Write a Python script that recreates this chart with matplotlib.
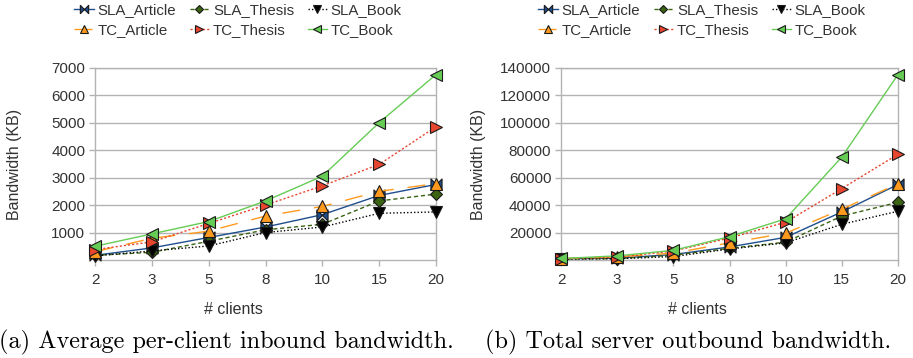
import matplotlib
matplotlib.use("Agg")
import matplotlib.pyplot as plt
from matplotlib.path import Path
import numpy as np

clients = ["2", "3", "5", "8", "10", "15", "20"]

# (a) average per-client inbound bandwidth (KB)
per_client = {
    "SLA_Article": [170, 440, 820, 1200, 1650, 2350, 2750],
    "SLA_Thesis":  [170, 280, 680, 1100, 1300, 2150, 2400],
    "SLA_Book":    [150, 330, 510, 1000, 1200, 1700, 1750],
    "TC_Article":  [300, 790, 1050, 1600, 1950, 2500, 2780],
    "TC_Thesis":   [380, 660, 1330, 2000, 2700, 3480, 4850],
    "TC_Book":     [500, 950, 1400, 2150, 3050, 5000, 6750],
}

# (b) total server outbound bandwidth (KB)
server_total = {
    "SLA_Article": [900, 1300, 4000, 9500, 16500, 35000, 55000],
    "SLA_Thesis":  [800, 1000, 3500, 8500, 13000, 32000, 42000],
    "SLA_Book":    [700, 900, 2500, 8000, 12500, 26000, 35500],
    "TC_Article":  [1000, 2300, 5000, 12500, 19500, 37000, 55500],
    "TC_Thesis":   [1000, 2000, 6500, 16000, 27500, 52000, 77000],
    "TC_Book":     [1100, 3000, 7000, 17000, 30000, 75000, 135000],
}

bowtie = Path([(-1, 1), (0, 0), (-1, -1), (-1, 1),
               (1, 1), (0, 0), (1, -1), (1, 1)],
              [Path.MOVETO, Path.LINETO, Path.LINETO, Path.CLOSEPOLY,
               Path.MOVETO, Path.LINETO, Path.LINETO, Path.CLOSEPOLY])

styles = {
    "SLA_Article": dict(color="#1f4e8c", ls="-", marker=bowtie, ms=8),
    "SLA_Thesis":  dict(color="#3a6312", ls=(0, (3, 2)), marker="D", ms=6),
    "SLA_Book":    dict(color="#000000", ls=(0, (1, 1.5)), marker="v", ms=8),
    "TC_Article":  dict(color="#ff9a1e", ls=(0, (13, 10)), marker="^", ms=8),
    "TC_Thesis":   dict(color="#e8452e", ls=(0, (1.5, 1.5)), marker=">", ms=8),
    "TC_Book":     dict(color="#66cc55", ls="-", marker="<", ms=8),
}

plt.rcParams["font.family"] = ["Liberation Sans", "DejaVu Sans"]
grid_c = "#b3b3b3"
text_c = "#333333"

fig = plt.figure(figsize=(9.13, 3.58), dpi=100)
W, H = 913, 358


def panel(left_px, right_px, data, ymax, ystep, legend_cx, label_x, xlabel_cx,
          caption, cap_cx):
    ax = fig.add_axes([left_px / W, 1 - 260 / H, (right_px - left_px) / W,
                       (260 - 67.7) / H])
    x = np.arange(len(clients))
    for name, vals in data.items():
        st = styles[name]
        ax.plot(x, vals, color=st["color"], linestyle=st["ls"], lw=1.0,
                marker=st["marker"], markersize=st["ms"],
                markerfacecolor=st["color"], markeredgecolor="#1a1a1a",
                markeredgewidth=0.8, label=name, clip_on=False, zorder=3)
    ax.set_xlim(0, len(clients) - 1)
    ax.set_ylim(0, ymax)
    ax.set_xticks(x)
    ax.set_xticklabels(clients)
    ax.set_yticks(np.arange(ystep, ymax + 1, ystep))
    ax.yaxis.grid(True, color=grid_c, lw=1.0)
    ax.set_axisbelow(True)
    for sp in ax.spines.values():
        sp.set_color(grid_c)
        sp.set_linewidth(1.0)
    ax.tick_params(axis="both", colors=grid_c, labelcolor=text_c,
                   labelsize=11, length=4, width=1.0)
    ax.tick_params(axis="y", pad=3)
    ax.tick_params(axis="x", pad=5)
    fig.text(label_x / W, 1 - 164 / H, "Bandwidth (KB)", rotation=90,
             ha="center", va="center", fontsize=11.5, color=text_c)
    fig.text(xlabel_cx / W, 1 - 309 / H, "# clients", ha="center",
             va="center", fontsize=11.5, color=text_c)
    fig.text(cap_cx / W, 1 - 342 / H, caption, ha="center", va="center",
             fontsize=17.5, family="cmr10", color="#000000")
    handles, labels = ax.get_legend_handles_labels()
    # legend fills column by column; order entries so rows read left to right
    order = [0, 3, 1, 4, 2, 5]
    fig.legend([handles[i] for i in order], [labels[i] for i in order],
               loc="upper center",
               bbox_to_anchor=(legend_cx / W, 1 - 1.5 / H), ncol=3,
               frameon=False, fontsize=10.8, handlelength=1.3,
               handletextpad=0.25, columnspacing=0.9, labelspacing=0.4,
               markerscale=0.75, borderaxespad=0.0, borderpad=0.1,
               labelcolor=text_c)
    return ax


panel(95, 436, per_client, 7000, 1000, 238, 15, 233,
      "(a) Average per-client inbound bandwidth.", 226)
panel(561, 898, server_total, 140000, 20000, 702, 478, 697,
      "(b) Total server outbound bandwidth.", 688)

fig.savefig("out.png", dpi=100)
